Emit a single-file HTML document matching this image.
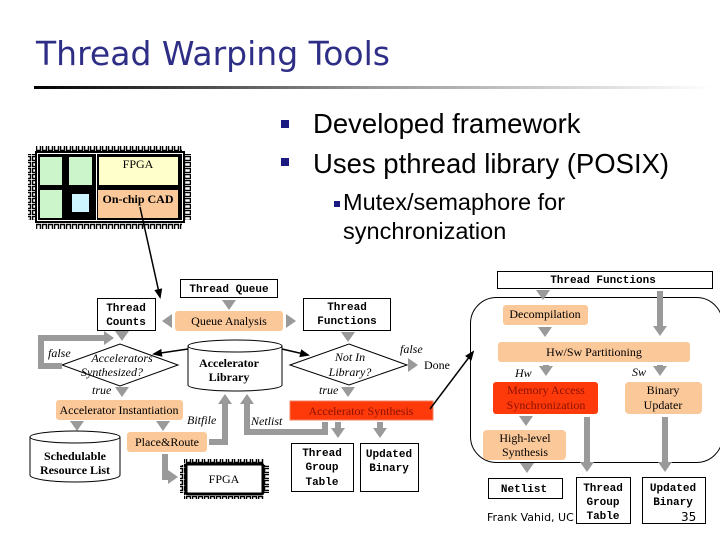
<!DOCTYPE html>
<html><head><meta charset="utf-8"><style>
body{margin:0;background:#fff;width:720px;height:540px;overflow:hidden}
svg{display:block}
.m{font-family:"Liberation Mono",monospace;font-weight:bold;font-size:11px}
.s{font-family:"Liberation Serif",serif;font-size:12px}
.i{font-family:"Liberation Serif",serif;font-style:italic;font-size:12px}
.b{font-family:"Liberation Serif",serif;font-weight:bold;font-size:12px}
.g{stroke:#9a9a9a;stroke-width:6;fill:none}
</style></head><body>
<svg width="720" height="540" viewBox="0 0 720 540" xmlns="http://www.w3.org/2000/svg">
<defs>
<linearGradient id="ul" x1="0" x2="1"><stop offset="0" stop-color="#000"/><stop offset="0.5" stop-color="#999"/><stop offset="1" stop-color="#fff"/></linearGradient>
<marker id="ga" markerUnits="userSpaceOnUse" markerWidth="14" markerHeight="14" refX="4" refY="7" orient="auto"><path d="M0,0 L10,7 L0,14 Z" fill="#9a9a9a"/></marker>
<marker id="ka" markerUnits="userSpaceOnUse" markerWidth="10" markerHeight="10" refX="8" refY="5" orient="auto"><path d="M0,1 L10,5 L0,9 Z" fill="#000"/></marker>
<pattern id="pinsH" width="6" height="8" patternUnits="userSpaceOnUse"><rect x="0.5" y="0.5" width="4" height="6" fill="#fff" stroke="#000" stroke-width="1.5"/></pattern>
<pattern id="pinsV" width="8" height="6" patternUnits="userSpaceOnUse"><rect x="0.5" y="0.5" width="6" height="4" fill="#fff" stroke="#000" stroke-width="1.5"/></pattern>
</defs>

<text x="36" y="65" font-family="'DejaVu Sans','Liberation Sans',sans-serif" font-size="33" fill="#2e2e86">Thread Warping Tools</text>
<rect x="34" y="86" width="680" height="3" fill="url(#ul)"/>

<rect x="281" y="120" width="8" height="8" fill="#1a1a80"/>
<rect x="281" y="158" width="8" height="8" fill="#1a1a80"/>
<text x="313" y="133" font-family="'Liberation Sans',sans-serif" font-size="27.5">Developed framework</text>
<text x="313" y="173" font-family="'Liberation Sans',sans-serif" font-size="27.5">Uses pthread library (POSIX)</text>
<rect x="334" y="201" width="6" height="6" fill="#1a1a80"/>
<text x="343" y="210" font-family="'Liberation Sans',sans-serif" font-size="23.5">Mutex/semaphore for</text>
<text x="343" y="239" font-family="'Liberation Sans',sans-serif" font-size="23.5">synchronization</text>

<!-- big chip -->
<rect x="36" y="146" width="146" height="8" fill="url(#pinsH)"/>
<rect x="36" y="221" width="146" height="8" fill="url(#pinsH)"/>
<rect x="28" y="154" width="8" height="66" fill="url(#pinsV)"/>
<rect x="183" y="154" width="8" height="66" fill="url(#pinsV)"/>
<rect x="35" y="151" width="150" height="72" fill="#000"/>
<rect x="37.5" y="153.5" width="145" height="67" fill="none" stroke="#fff" stroke-width="1"/>
<rect x="40" y="157" width="22" height="28" fill="#ccf5cc"/>
<rect x="69" y="157" width="23" height="28" fill="#ccf5cc"/>
<rect x="40" y="190" width="22" height="28" fill="#ccf5cc"/>
<rect x="72" y="194" width="17" height="18" fill="#ccf5ff"/>
<rect x="96" y="154" width="1" height="66" fill="#fff"/>
<rect x="99" y="157" width="79" height="28" fill="#ffffcc"/>
<rect x="98" y="190" width="80" height="28" fill="#fbc89a"/>
<text x="138" y="168" class="s" text-anchor="middle" font-size="12">FPGA</text>
<text x="138" y="203" class="b" text-anchor="middle">On-chip CAD</text>
<line x1="140" y1="207" x2="160" y2="297" stroke="#000" stroke-width="1.5" marker-end="url(#ka)"/>

<!-- left flow -->
<rect x="180.5" y="279.5" width="97" height="18" fill="#fff" stroke="#000"/>
<text x="229" y="292" class="m" text-anchor="middle">Thread Queue</text>
<rect x="97.5" y="298.5" width="58" height="32" fill="#fff" stroke="#000"/>
<text x="126" y="311" class="m" text-anchor="middle">Thread</text>
<text x="126" y="325" class="m" text-anchor="middle">Counts</text>
<rect x="175" y="311" width="108" height="20" rx="3" fill="#fbc89a"/>
<text x="229" y="325" class="s" text-anchor="middle">Queue Analysis</text>
<line x1="229" y1="300" x2="229" y2="304" class="g" marker-end="url(#ga)"/>
<line x1="172" y1="321" x2="168" y2="321" class="g" marker-end="url(#ga)"/>
<line x1="286" y1="321" x2="290" y2="321" class="g" marker-end="url(#ga)"/>

<path d="M62,365 L120,344 L178,365 L120,386 Z" fill="#fff" stroke="#000"/>
<text x="122" y="362" class="i" text-anchor="middle">Accelerators</text>
<text x="112" y="376" class="i" text-anchor="middle">Synthesized?</text>
<path d="M62,366 L41,366 L41,338 L108,338" class="g" marker-end="url(#ga)"/>
<text x="48" y="357" class="i">false</text>
<line x1="122" y1="332" x2="122" y2="335" class="g" marker-end="url(#ga)"/>
<text x="92" y="394" class="i">true</text>
<line x1="122" y1="388" x2="122" y2="391" class="g" marker-end="url(#ga)"/>

<path d="M188,346 L188,385 A47,6 0 0 0 282,385 L282,346" fill="#fff" stroke="#000"/>
<ellipse cx="235" cy="346" rx="47" ry="6" fill="#fff" stroke="#000"/>
<text x="229" y="367" class="b" text-anchor="middle">Accelerator</text>
<text x="229" y="381" class="b" text-anchor="middle">Library</text>
<line x1="188" y1="349" x2="154" y2="354" stroke="#000" stroke-width="1.5" marker-end="url(#ka)"/>
<line x1="282" y1="349" x2="308" y2="355" stroke="#000" stroke-width="1.5" marker-end="url(#ka)"/>

<rect x="56" y="400" width="127" height="20" rx="3" fill="#fbc89a"/>
<text x="119" y="414" class="s" text-anchor="middle">Accelerator Instantiation</text>
<line x1="77" y1="422" x2="77" y2="425" class="g" marker-end="url(#ga)"/>
<line x1="163" y1="422" x2="163" y2="425" class="g" marker-end="url(#ga)"/>

<path d="M30,437 L30,475 A45,7 0 0 0 120,475 L120,437" fill="#fff" stroke="#000"/>
<ellipse cx="75" cy="437" rx="45" ry="6" fill="#fff" stroke="#000"/>
<text x="75" y="460" class="b" text-anchor="middle">Schedulable</text>
<text x="75" y="474" class="b" text-anchor="middle">Resource List</text>

<rect x="127" y="432" width="80" height="20" rx="3" fill="#fbc89a"/>
<text x="167" y="446" class="s" text-anchor="middle">Place&amp;Route</text>
<path d="M209,442 L225,442 L225,400" class="g" marker-end="url(#ga)"/>
<text x="187" y="424" class="i">Bitfile</text>
<path d="M325,422 L325,432 L247,432 L247,400" class="g" marker-end="url(#ga)"/>
<text x="251" y="425" class="i">Netlist</text>
<path d="M165,454 L165,477 L172,477" class="g" marker-end="url(#ga)"/>

<rect x="184" y="459" width="80" height="6" fill="url(#pinsH)"/>
<rect x="184" y="493" width="80" height="6" fill="url(#pinsH)"/>
<rect x="180" y="465" width="6" height="28" fill="url(#pinsV)"/>
<rect x="263" y="465" width="6" height="28" fill="url(#pinsV)"/>
<rect x="186" y="464" width="77" height="30" rx="2" fill="#fff" stroke="#000" stroke-width="3"/>
<text x="224" y="483" class="s" text-anchor="middle">FPGA</text>

<!-- middle -->
<rect x="303.5" y="298.5" width="87" height="32" fill="#fff" stroke="#000"/>
<text x="347" y="310" class="m" text-anchor="middle">Thread</text>
<text x="347" y="324" class="m" text-anchor="middle">Functions</text>
<line x1="348" y1="333" x2="348" y2="336" class="g" marker-end="url(#ga)"/>
<path d="M290,365 L349,344 L407,365 L349,385 Z" fill="#fff" stroke="#000"/>
<text x="350" y="361" class="i" text-anchor="middle">Not In</text>
<text x="350" y="376" class="i" text-anchor="middle">Library?</text>
<text x="400" y="353" class="i">false</text>
<line x1="408" y1="365" x2="412" y2="365" class="g" marker-end="url(#ga)"/>
<text x="424" y="369" class="s">Done</text>
<text x="319" y="394" class="i">true</text>
<line x1="348" y1="388" x2="348" y2="391" class="g" marker-end="url(#ga)"/>
<rect x="290" y="401" width="143" height="19" fill="#ff3a0a" stroke="#f08060"/>
<text x="361" y="415" class="s" text-anchor="middle" fill="#8a1000">Accelerator Synthesis</text>
<line x1="338" y1="422" x2="338" y2="432" class="g" marker-end="url(#ga)"/>
<line x1="380" y1="422" x2="380" y2="432" class="g" marker-end="url(#ga)"/>
<rect x="291.5" y="443.5" width="62" height="48" fill="#fff" stroke="#000"/>
<text x="322" y="456" class="m" text-anchor="middle">Thread</text>
<text x="322" y="470" class="m" text-anchor="middle">Group</text>
<text x="322" y="485" class="m" text-anchor="middle">Table</text>
<rect x="360.5" y="443.5" width="58" height="48" fill="#fff" stroke="#000"/>
<text x="389" y="457" class="m" text-anchor="middle">Updated</text>
<text x="389" y="471" class="m" text-anchor="middle">Binary</text>
<line x1="430" y1="409" x2="473" y2="352" stroke="#000" stroke-width="1.5" marker-end="url(#ka)"/>

<!-- right -->
<rect x="497.5" y="271.5" width="215" height="17" fill="#fff" stroke="#000"/>
<text x="603" y="283" class="m" text-anchor="middle">Thread Functions</text>
<rect x="470.5" y="297.5" width="252" height="165" rx="26" fill="none" stroke="#000"/>
<line x1="543" y1="291" x2="543" y2="294" class="g" marker-end="url(#ga)"/>
<line x1="660" y1="291" x2="660" y2="330" class="g" marker-end="url(#ga)"/>
<rect x="503" y="305" width="85" height="20" rx="3" fill="#fbc89a"/>
<text x="545" y="318" class="s" text-anchor="middle">Decompilation</text>
<line x1="545" y1="328" x2="545" y2="331" class="g" marker-end="url(#ga)"/>
<rect x="498" y="342" width="192" height="20" rx="3" fill="#fbc89a"/>
<text x="594" y="356" class="s" text-anchor="middle">Hw/Sw Partitioning</text>
<text x="515" y="377" class="i">Hw</text>
<text x="632" y="376" class="i">Sw</text>
<line x1="546" y1="365" x2="546" y2="370" class="g" marker-end="url(#ga)"/>
<line x1="660" y1="365" x2="660" y2="370" class="g" marker-end="url(#ga)"/>
<rect x="493" y="382" width="105" height="32" rx="3" fill="#ff3a0a"/>
<text x="546" y="394" class="s" text-anchor="middle" fill="#8a1000">Memory Access</text>
<text x="546" y="409" class="s" text-anchor="middle" fill="#8a1000">Synchronization</text>
<rect x="625" y="382" width="77" height="32" rx="4" fill="#fbc89a"/>
<text x="663" y="394" class="s" text-anchor="middle">Binary</text>
<text x="663" y="409" class="s" text-anchor="middle">Updater</text>
<line x1="526" y1="417" x2="526" y2="420" class="g" marker-end="url(#ga)"/>
<line x1="587" y1="417" x2="587" y2="466" class="g" marker-end="url(#ga)"/>
<line x1="665" y1="417" x2="665" y2="466" class="g" marker-end="url(#ga)"/>
<rect x="483" y="430" width="83" height="30" rx="4" fill="#fbc89a"/>
<text x="525" y="442" class="s" text-anchor="middle">High-level</text>
<text x="525" y="456" class="s" text-anchor="middle">Synthesis</text>
<line x1="527" y1="463" x2="527" y2="467" class="g" marker-end="url(#ga)"/>
<rect x="488.5" y="478.5" width="74" height="20" fill="#fff" stroke="#000"/>
<text x="524" y="492" class="m" text-anchor="middle">Netlist</text>
<text x="487" y="521" font-family="'DejaVu Sans',sans-serif" font-size="11">Frank Vahid, UC</text>
<rect x="576.5" y="477.5" width="54" height="46" fill="#fff" stroke="#000"/>
<text x="603" y="491" class="m" text-anchor="middle">Thread</text>
<text x="603" y="505" class="m" text-anchor="middle">Group</text>
<text x="603" y="519" class="m" text-anchor="middle">Table</text>
<rect x="642.5" y="477.5" width="63" height="46" fill="#fff" stroke="#000"/>
<text x="673" y="491" class="m" text-anchor="middle">Updated</text>
<text x="673" y="505" class="m" text-anchor="middle">Binary</text>
<text x="681" y="521" font-family="'DejaVu Sans',sans-serif" font-size="12">35</text>
</svg>
</body></html>
